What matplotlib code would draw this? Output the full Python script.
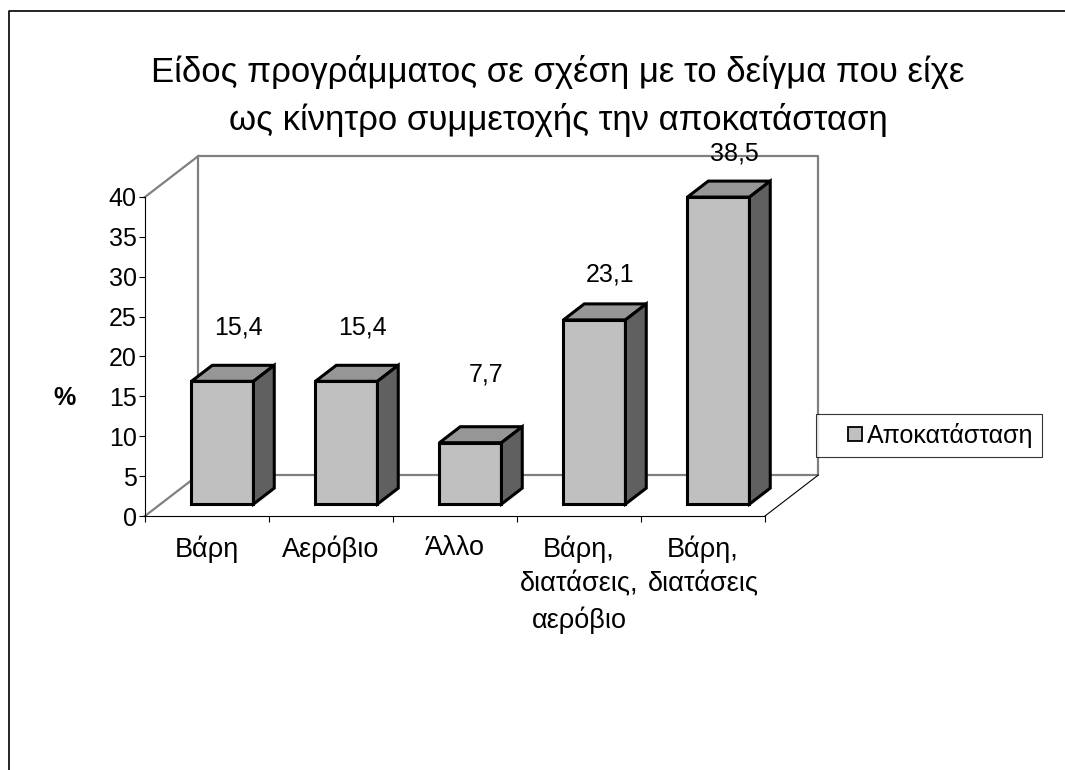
import matplotlib
matplotlib.use('Agg')
import matplotlib.pyplot as plt
from matplotlib.patches import Polygon
from matplotlib.lines import Line2D

plt.rcParams['font.family'] = ['Liberation Sans', 'DejaVu Sans']

title = 'Είδος προγράμματος σε σχέση με το δείγμα που είχε\nως κίνητρο συμμετοχής την αποκατάσταση'
categories = ['Βάρη', 'Αερόβιο', 'Άλλο', 'Βάρη,\nδιατάσεις,\nαερόβιο', 'Βάρη,\nδιατάσεις']
values = [15.4, 15.4, 7.7, 23.1, 38.5]
value_labels = ['15,4', '15,4', '7,7', '23,1', '38,5']
series_name = 'Αποκατάσταση'
y_ticks = [0, 5, 10, 15, 20, 25, 30, 35, 40]

# pseudo-3d geometry, in data units
DX, DY = 0.43, 5.14          # depth of the floor
BAR_FRONT, BAR_BACK = 0.29, 0.68
BAR_W = 0.5
label_gap = [8.2, 8.2, 10.0, 7.2, 7.0]

FRONT = '#c0c0c0'
TOP = '#969696'
SIDE = '#606060'
WALL = '#808080'
FS = 18

fig = plt.figure(figsize=(10.65, 7.7), dpi=100)
ax = fig.add_axes([145 / 1065, (770 - 516) / 770, 620 / 1065, 319 / 770])
ax.set_xlim(-0.5, len(values) - 0.5)
ax.set_ylim(0, 40)
ax.patch.set_visible(False)

for s in ['top', 'right']:
    ax.spines[s].set_visible(False)
for s in ['left', 'bottom']:
    ax.spines[s].set_color('black')
    ax.spines[s].set_linewidth(0.8)

ax.set_yticks(y_ticks)
ax.tick_params(axis='y', direction='out', length=4, width=0.8, pad=2, labelsize=FS)
ax.set_xticks(range(len(categories)))
ax.set_xticklabels(categories, fontsize=19.5, linespacing=1.42)
ax.tick_params(axis='x', which='major', length=0, pad=14)
ax.set_xticks([i - 0.5 for i in range(len(categories) + 1)], minor=True)
ax.tick_params(axis='x', which='minor', direction='out', length=4, width=0.8)

# walls and floor
x_lo, x_hi = -0.5, len(values) - 0.5
wall = dict(color=WALL, lw=1.6, clip_on=False, zorder=1)
ax.plot([x_lo, x_lo + DX], [0, DY], **wall)
ax.plot([x_lo, x_lo + DX], [40, 40 + DY], **wall)
ax.plot([x_lo + DX, x_hi + DX, x_hi + DX, x_lo + DX, x_lo + DX],
        [DY, DY, 40 + DY, 40 + DY, DY], **wall)
ax.plot([x_hi, x_hi + DX], [0, DY], color='black', lw=0.8, clip_on=False, zorder=1)

# bars
bdx = (BAR_BACK - BAR_FRONT) * DX
bdy = (BAR_BACK - BAR_FRONT) * DY
for i, v in enumerate(values):
    x0 = i - BAR_W / 2 + BAR_FRONT * DX
    y0 = BAR_FRONT * DY
    x1 = x0 + BAR_W
    faces = [
        ([(x0, y0), (x1, y0), (x1, y0 + v), (x0, y0 + v)], FRONT),
        ([(x0, y0 + v), (x1, y0 + v), (x1 + bdx, y0 + v + bdy), (x0 + bdx, y0 + v + bdy)], TOP),
        ([(x1, y0), (x1 + bdx, y0 + bdy), (x1 + bdx, y0 + v + bdy), (x1, y0 + v)], SIDE),
    ]
    for pts, fc in faces:
        ax.add_patch(Polygon(pts, closed=True, facecolor=fc, edgecolor='black',
                             lw=2.2, joinstyle='miter', clip_on=False, zorder=3))
    ax.text(i + 0.25, v + label_gap[i], value_labels[i], ha='center', va='center',
            fontsize=FS, zorder=5)

fig.text(64 / 1065, 1 - 398 / 770, '%', fontsize=FS, fontweight='bold',
         ha='center', va='center')

fig.text(558 / 1065, 1 - 96 / 770, title, fontsize=25, ha='center', va='center',
         linespacing=1.5)

handle = Line2D([], [], linestyle='none', marker='s', markersize=9.4,
                markerfacecolor=FRONT, markeredgecolor='black', markeredgewidth=1.3)
leg = fig.legend([handle], [series_name], loc='center left',
                 bbox_to_anchor=(816 / 1065, 1 - 435.5 / 770),
                 frameon=True, fancybox=False, fontsize=FS, handlelength=2.45,
                 handletextpad=-0.78, borderpad=0.35, borderaxespad=0)
leg.get_frame().set_edgecolor('black')
leg.get_frame().set_linewidth(0.8)

# chart border
fig.add_artist(plt.Line2D([9 / 1065, 9 / 1065, 1], [0, 1 - 11 / 770, 1 - 11 / 770],
                          color='black', lw=1.2, transform=fig.transFigure))

fig.savefig('out.png', dpi=100)
